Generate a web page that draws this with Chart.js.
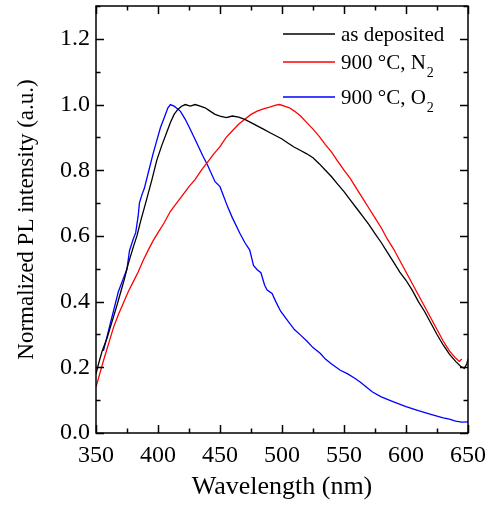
<!DOCTYPE html>
<html>
<head>
<meta charset="utf-8">
<script src="https://cdn.jsdelivr.net/npm/chart.js@4.4.0/dist/chart.umd.min.js"></script>
<style>
  html, body { margin: 0; padding: 0; background: #fff; }
  #wrap { width: 490px; height: 505px; }
</style>
</head>
<body>
<div id="wrap"><canvas id="grafico"></canvas></div>
<script>
// datos
const seriesNames = ['as deposited', '900 °C, N', '900 °C, O'];
const seriesSubs = ['', '2', '2'];
const seriesColors = ['#000000', '#ff0000', '#0000ff'];

const xTicks = [350, 400, 450, 500, 550, 600, 650];
const yTicks = [0.0, 0.2, 0.4, 0.6, 0.8, 1.0, 1.2];

const wlDep = [350, 352, 355, 359, 363, 367, 370, 373, 376, 380, 383, 386, 390, 395, 399, 403, 407, 410, 413, 416, 419, 422, 426, 430, 434, 438, 442, 446, 450, 455, 460, 465, 470, 475, 480, 485, 490, 495, 500, 505, 510, 515, 520, 525, 530, 535, 540, 545, 550, 555, 560, 565, 570, 575, 580, 585, 590, 595, 600, 605, 610, 615, 620, 625, 630, 635, 640, 644, 647, 649, 650];
const plDep = [0.18, 0.21, 0.25, 0.29, 0.34, 0.39, 0.43, 0.47, 0.515, 0.565, 0.60, 0.645, 0.70, 0.77, 0.83, 0.875, 0.915, 0.945, 0.97, 0.985, 0.995, 1.0, 0.995, 1.0, 0.995, 0.99, 0.98, 0.97, 0.965, 0.96, 0.965, 0.962, 0.955, 0.945, 0.935, 0.925, 0.915, 0.905, 0.895, 0.882, 0.87, 0.86, 0.85, 0.838, 0.82, 0.80, 0.78, 0.757, 0.735, 0.71, 0.685, 0.66, 0.635, 0.607, 0.58, 0.55, 0.52, 0.49, 0.465, 0.435, 0.40, 0.37, 0.335, 0.30, 0.268, 0.24, 0.218, 0.203, 0.197, 0.21, 0.225];

const wlN2 = [350, 353, 356, 360, 364, 368, 372, 376, 380, 384, 388, 392, 396, 400, 405, 410, 415, 420, 425, 430, 435, 440, 445, 450, 455, 460, 465, 470, 475, 480, 485, 490, 495, 498, 502, 506, 510, 515, 520, 525, 530, 535, 540, 545, 550, 555, 560, 565, 570, 575, 580, 585, 590, 595, 600, 605, 610, 615, 620, 625, 630, 635, 640, 643, 645];
const plN2 = [0.14, 0.18, 0.22, 0.27, 0.32, 0.36, 0.395, 0.43, 0.46, 0.49, 0.525, 0.556, 0.585, 0.61, 0.64, 0.675, 0.70, 0.725, 0.75, 0.772, 0.80, 0.825, 0.85, 0.872, 0.90, 0.92, 0.94, 0.955, 0.97, 0.98, 0.987, 0.992, 0.998, 1.0, 0.995, 0.99, 0.98, 0.965, 0.945, 0.925, 0.903, 0.878, 0.855, 0.827, 0.80, 0.775, 0.745, 0.715, 0.685, 0.655, 0.625, 0.59, 0.56, 0.525, 0.49, 0.455, 0.42, 0.385, 0.35, 0.315, 0.28, 0.25, 0.228, 0.218, 0.225];

const wlO2 = [356, 360, 364, 368, 372, 375, 377, 380, 382, 384, 385, 387, 389, 392, 396, 399, 402, 405, 408, 410, 413, 418, 422, 426, 431, 436, 440, 446, 450, 453, 456, 460, 466, 470, 474, 477, 480, 483, 486, 488, 492, 495, 499, 505, 510, 515, 520, 525, 531, 535, 540, 547, 553, 559, 563, 568, 573, 580, 590, 600, 605, 610, 620, 630, 635, 640, 645, 650];
const plO2 = [0.25, 0.31, 0.37, 0.43, 0.47, 0.50, 0.555, 0.59, 0.61, 0.66, 0.70, 0.725, 0.745, 0.79, 0.85, 0.89, 0.93, 0.96, 0.99, 1.0, 0.995, 0.98, 0.955, 0.925, 0.885, 0.845, 0.815, 0.765, 0.75, 0.72, 0.69, 0.655, 0.608, 0.58, 0.557, 0.51, 0.497, 0.488, 0.45, 0.435, 0.425, 0.40, 0.37, 0.34, 0.315, 0.298, 0.28, 0.26, 0.242, 0.225, 0.21, 0.191, 0.18, 0.166, 0.155, 0.14, 0.125, 0.11, 0.095, 0.08, 0.074, 0.068, 0.057, 0.046, 0.042, 0.036, 0.033, 0.034];

const fuente = 'Liberation Serif, Times New Roman, serif';

function puntos(xs, ys) {
    return xs.map((x, i) => ({ x: x, y: ys[i] }));
}

// marco y ticks hacia dentro en los cuatro lados
const marcoTicks = {
    id: 'marcoTicks',
    afterDraw(chart) {
        const ctx = chart.ctx;
        const { left, right, top, bottom } = chart.chartArea;
        const sx = chart.scales.x;
        const sy = chart.scales.y;
        ctx.save();
        ctx.strokeStyle = '#000';
        ctx.lineWidth = 1.5;
        ctx.strokeRect(left, top, right - left, bottom - top);
        ctx.beginPath();
        for (let v = 350; v <= 650; v += 25) {
            const px = Math.round(sx.getPixelForValue(v)) + 0.5;
            const len = v % 50 === 0 ? 8 : 4.5;
            ctx.moveTo(px, bottom); ctx.lineTo(px, bottom - len);
            ctx.moveTo(px, top); ctx.lineTo(px, top + len);
        }
        for (let k = 0; k <= 13; k++) {
            const py = Math.round(sy.getPixelForValue(k / 10)) + 0.5;
            const len = k % 2 === 0 ? 8 : 4.5;
            ctx.moveTo(left, py); ctx.lineTo(left + len, py);
            ctx.moveTo(right, py); ctx.lineTo(right - len, py);
        }
        ctx.stroke();
        ctx.restore();
    }
};

// leyenda dentro del grafico, con subindices
const leyenda = {
    id: 'leyenda',
    afterDraw(chart) {
        const ctx = chart.ctx;
        const filas = [34, 62, 97];
        ctx.save();
        ctx.textBaseline = 'middle';
        ctx.textAlign = 'left';
        for (let i = 0; i < seriesNames.length; i++) {
            const y = filas[i];
            ctx.strokeStyle = seriesColors[i];
            ctx.lineWidth = 1.4;
            ctx.beginPath();
            ctx.moveTo(283, y);
            ctx.lineTo(335, y);
            ctx.stroke();
            ctx.fillStyle = '#000';
            ctx.font = '21px ' + fuente;
            ctx.fillText(seriesNames[i], 341, y + 1);
            if (seriesSubs[i]) {
                const w = ctx.measureText(seriesNames[i]).width;
                ctx.font = '14px ' + fuente;
                ctx.fillText(seriesSubs[i], 341 + w + 1, y + 11);
            }
        }
        ctx.restore();
    }
};

document.addEventListener('DOMContentLoaded', function() {
    const canva = document.getElementById('grafico');

    const datasets = [
        { label: seriesNames[0], data: puntos(wlDep, plDep) },
        { label: seriesNames[1], data: puntos(wlN2, plN2) },
        { label: seriesNames[2], data: puntos(wlO2, plO2) }
    ].map((d, i) => Object.assign(d, {
        borderColor: seriesColors[i],
        backgroundColor: seriesColors[i],
        borderWidth: 1.3,
        pointRadius: 0,
        tension: 0,
        fill: false
    }));

    new Chart(canva, {
        type: 'line',
        data: { datasets: datasets },
        options: {
            responsive: true,
            maintainAspectRatio: false,
            animation: false,
            layout: { padding: { left: 0, right: 22, top: 6, bottom: 0 } },
            plugins: {
                legend: { display: false },
                tooltip: { enabled: false }
            },
            scales: {
                x: {
                    type: 'linear',
                    min: 350,
                    max: 650,
                    afterFit: function(scale) {
                        scale.height = 72;
                        scale.paddingLeft = 0;
                        scale.paddingRight = 0;
                    },
                    afterBuildTicks: function(scale) {
                        scale.ticks = xTicks.map(v => ({ value: v }));
                    },
                    grid: { display: false, drawTicks: false },
                    border: { display: false },
                    ticks: {
                        color: '#000',
                        padding: 8,
                        maxRotation: 0,
                        font: { family: fuente, size: 24 },
                        callback: v => String(v)
                    },
                    title: {
                        display: true,
                        text: 'Wavelength (nm)',
                        color: '#000',
                        font: { family: fuente, size: 26 },
                        padding: { top: 0, bottom: 2 }
                    }
                },
                y: {
                    type: 'linear',
                    min: 0,
                    max: 1.3,
                    afterFit: function(scale) {
                        scale.width = 96;
                        scale.paddingTop = 0;
                        scale.paddingBottom = 0;
                    },
                    afterBuildTicks: function(scale) {
                        scale.ticks = yTicks.map(v => ({ value: v }));
                    },
                    grid: { display: false, drawTicks: false },
                    border: { display: false },
                    ticks: {
                        color: '#000',
                        padding: 6,
                        font: { family: fuente, size: 24 },
                        callback: v => Number(v).toFixed(1)
                    },
                    title: {
                        display: true,
                        text: 'Normalized PL intensity (a.u.)',
                        color: '#000',
                        font: { family: fuente, size: 23 },
                        padding: { top: 13, bottom: 0 }
                    }
                }
            }
        },
        plugins: [marcoTicks, leyenda]
    });
});
</script>
</body>
</html>
